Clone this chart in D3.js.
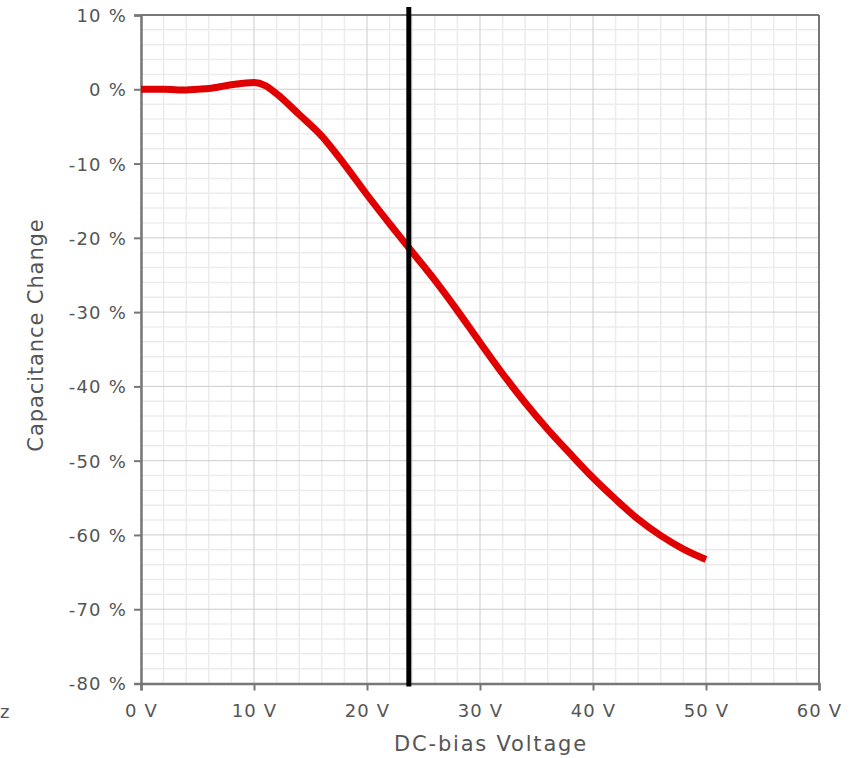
<!DOCTYPE html>
<html lang="en">
<head>
  <meta charset="UTF-8">
  <title>Capacitance Change vs DC-bias Voltage</title>
  <script src="https://d3js.org/d3.v7.min.js"></script>
  <style>
    body { margin: 0; background: #fff; }
    text { font-family: "DejaVu Sans", sans-serif; fill: #555; }
    .tick text { font-size: 18px; letter-spacing: 1.2px; }
    .axis-title { font-size: 21px; }
  </style>
</head>
<body>
  <svg id="chart"></svg>
  <script>
    // values
    const voltage = [0, 2, 4, 5, 6, 8, 10, 11, 12, 14, 16, 18, 20, 22, 24, 26, 28, 30, 32, 34, 36, 38, 40, 42, 44, 46, 48, 50];
    const capChange = [0, 0, -0.1, 0, 0.1, 0.6, 0.9, 0.5, -0.6, -3.4, -6.3, -10.1, -14.2, -18.1, -21.9, -25.7, -29.8, -34.1, -38.3, -42.2, -45.8, -49.1, -52.3, -55.2, -57.9, -60.1, -61.9, -63.3];
    const markerVoltage = 23.7;
    const xTicks = [0, 10, 20, 30, 40, 50, 60];
    const yTicks = [10, 0, -10, -20, -30, -40, -50, -60, -70, -80];

    const width = 854, height = 758;
    const margin = { top: 15, right: 35, bottom: 74.5, left: 141 };
    const svg = d3.select("#chart").attr("width", width).attr("height", height);

    const x = d3.scaleLinear().domain([0, 60]).range([margin.left, width - margin.right]);
    const y = d3.scaleLinear().domain([-80, 10]).range([height - margin.bottom, margin.top]);

    // minor grid every 2 V / 2 %
    const minorX = d3.range(0, 61, 2).filter(v => v % 10 !== 0);
    const minorY = d3.range(-80, 11, 2).filter(v => v % 10 !== 0);

    const grid = svg.append("g");
    grid.selectAll(".mx").data(minorX).enter().append("line")
      .attr("x1", d => x(d)).attr("x2", d => x(d))
      .attr("y1", y(10)).attr("y2", y(-80))
      .attr("stroke", "#ececec").attr("stroke-width", 1.5);
    grid.selectAll(".my").data(minorY).enter().append("line")
      .attr("x1", x(0)).attr("x2", x(60))
      .attr("y1", d => y(d)).attr("y2", d => y(d))
      .attr("stroke", "#ececec").attr("stroke-width", 1.5);
    grid.selectAll(".Mx").data(xTicks).enter().append("line")
      .attr("x1", d => x(d)).attr("x2", d => x(d))
      .attr("y1", y(10)).attr("y2", y(-80))
      .attr("stroke", "#ccc").attr("stroke-width", 1);
    grid.selectAll(".My").data(yTicks).enter().append("line")
      .attr("x1", x(0)).attr("x2", x(60))
      .attr("y1", d => y(d)).attr("y2", d => y(d))
      .attr("stroke", "#ccc").attr("stroke-width", 1);

    // frame top / right
    svg.append("line").attr("x1", x(0)).attr("x2", x(60)).attr("y1", y(10)).attr("y2", y(10))
      .attr("stroke", "#777").attr("stroke-width", 2);
    svg.append("line").attr("x1", x(60)).attr("x2", x(60)).attr("y1", y(10)).attr("y2", y(-80))
      .attr("stroke", "#777").attr("stroke-width", 2);

    // axes
    const xAxis = svg.append("g")
      .attr("transform", `translate(0,${y(-80)})`)
      .call(d3.axisBottom(x).tickValues(xTicks).tickFormat(d => d + " V").tickSizeOuter(0).tickSize(7).tickPadding(14));
    const yAxis = svg.append("g")
      .attr("transform", `translate(${x(0)},0)`)
      .call(d3.axisLeft(y).tickValues(yTicks).tickFormat(d => d + " %").tickSizeOuter(0).tickSize(7).tickPadding(7));
    [xAxis, yAxis].forEach(a => {
      a.select(".domain").attr("stroke", "#777").attr("stroke-width", 2.5);
      a.selectAll(".tick line").attr("stroke", "#777").attr("stroke-width", 2);
      a.selectAll(".tick text").attr("fill", "#555");
    });
    yAxis.selectAll(".tick text").attr("dy", "0.36em");

    // curve
    const line = d3.line().x(d => x(d[0])).y(d => y(d[1])).curve(d3.curveMonotoneX);
    svg.append("path")
      .datum(voltage.map((v, i) => [v, capChange[i]]))
      .attr("d", line)
      .attr("fill", "none")
      .attr("stroke", "#e00000")
      .attr("stroke-width", 7)
      .attr("stroke-linejoin", "round");

    // vertical marker
    svg.append("line")
      .attr("x1", x(markerVoltage)).attr("x2", x(markerVoltage))
      .attr("y1", 7).attr("y2", y(-80) + 3)
      .attr("stroke", "#000").attr("stroke-width", 5);

    // titles
    svg.append("text").attr("class", "axis-title")
      .attr("x", 491).attr("y", 751).attr("text-anchor", "middle")
      .style("letter-spacing", "1.8px")
      .text("DC-bias Voltage");
    svg.append("text").attr("class", "axis-title")
      .attr("transform", "translate(43,335) rotate(-90)").attr("text-anchor", "middle")
      .style("letter-spacing", "0.9px")
      .text("Capacitance Change");
    // cut-off label at far left
    svg.append("text").attr("x", 0).attr("y", 718).attr("text-anchor", "start")
      .style("font-size", "18px").text("z");
  </script>
</body>
</html>
